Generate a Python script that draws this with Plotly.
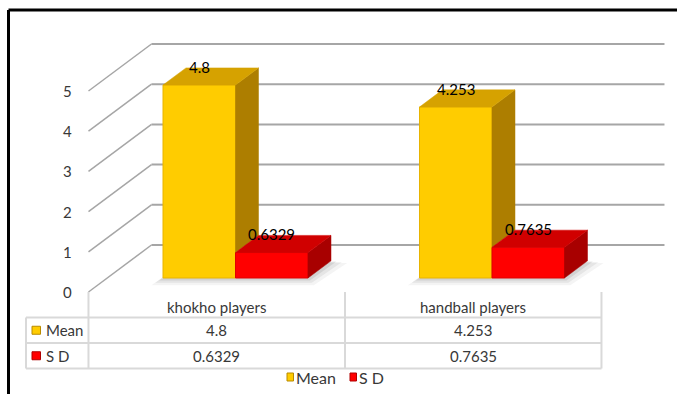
import plotly.graph_objects as go

# ---- data ----
categories = ["khokho players", "handball players"]
series_names = ["Mean", "S D"]
mean_values = [4.8, 4.253]
sd_values = [0.6329, 0.7635]
y_ticks = [0, 1, 2, 3, 4, 5]

# ---- styling ----
FRONT = {"Mean": "#FFCC00", "S D": "#FF0000"}
TOP = {"Mean": "#D6A200", "S D": "#D00000"}
SIDE = {"Mean": "#AD7E00", "S D": "#A80000"}
EDGE = {"Mean": "#E8B400", "S D": "#E00000"}
KEY_EDGE = {"Mean": "#B88A00", "S D": "#B00000"}
GRID = "#A6A6A6"
TABLE_LINE = "#D9D9D9"
TEXT = "#383838"
FONT = "Lato"

W, H = 677, 394
# pixel mapping of the data axes (bar front plane)
X0_PX, X_UNIT = 235.5, 256.5      # x=0 position / px per category
Y0_PX, Y_UNIT = 278.0, 40.2       # y=0 position / px per unit

# oblique projection for the 3-D look
DX = 63 / X_UNIT      # x shift from front wall to back wall
DV = 47 / Y_UNIT      # y shift from front wall to back wall
DB = 0.298            # depth of the bar front faces
BD = 0.365            # depth of the bars
HW = 72.5 / 2 / X_UNIT  # half bar width


def proj(x, v, d):
    return x + (d - DB) * DX, v + (d - DB) * DV


def px_to_x(px):
    return (px - X0_PX) / X_UNIT


def py_to_v(py):
    return (Y0_PX - py) / Y_UNIT


x_range = [px_to_x(0), px_to_x(W)]
y_range = [py_to_v(H), py_to_v(0)]

fig = go.Figure()
shapes = []
annotations = []

# ---- walls: back gridlines and left wall diagonals ----
for k in y_ticks:
    x1, y1 = proj(-0.5, k, 1)
    x2, y2 = proj(1.5, k, 1)
    shapes.append(dict(type="line", xref="x", yref="y", x0=x1, y0=y1, x1=x2, y1=y2,
                       line=dict(color=GRID, width=2), layer="below"))
    xf, yf = proj(-0.5, k, 0)
    shapes.append(dict(type="line", xref="x", yref="y", x0=xf, y0=yf, x1=x1, y1=y1,
                       line=dict(color=GRID, width=1.5), layer="below"))
    annotations.append(dict(x=xf, y=yf, xref="x", yref="y", text=str(k), showarrow=False,
                            xanchor="right", yanchor="middle", xshift=-14,
                            font=dict(family=FONT, size=15, color=TEXT)))

# ---- soft shadows under each bar group ----
bdx, bdv = BD * DX, BD * DV
for i, _ in enumerate(categories):
    gl, gr = i - 2 * HW, i + 2 * HW
    for grow, op in [(0.045, 0.06), (0.03, 0.08), (0.015, 0.11)]:
        gx = grow
        gv = grow * 4.0
        pts = [(gl - gx, -gv), (gr + gx * 0.5, -gv),
               (gr + bdx + gx * 1.4, bdv - gv * 0.3), (gl + bdx, bdv)]
        path = "M " + " L ".join(f"{px:.5f},{pv:.5f}" for px, pv in pts) + " Z"
        shapes.append(dict(type="path", xref="x", yref="y", path=path,
                           fillcolor=f"rgba(60,60,60,{op})", line=dict(width=0), layer="below"))

# ---- bar front faces ----
series = {"Mean": mean_values, "S D": sd_values}
offsets = {"Mean": -HW, "S D": HW}
for name in series_names:
    fig.add_trace(go.Bar(
        x=[i + offsets[name] for i in range(len(categories))],
        y=series[name], width=2 * HW, name=name,
        marker=dict(color=FRONT[name], line=dict(color=EDGE[name], width=1)),
        showlegend=False, hoverinfo="skip"))

# ---- top and side faces, drawn left to right ----
for i, _ in enumerate(categories):
    for j, name in enumerate(series_names):
        v = series[name][i]
        c = i + offsets[name]
        l, r = c - HW, c + HW
        top = [(l, v), (r, v), (r + bdx, v + bdv), (l + bdx, v + bdv), (l, v)]
        # the side face is hidden below the neighbouring bar on the right
        low = 0.0
        if j + 1 < len(series_names):
            low = min(series[series_names[j + 1]][i], v)
        side = [(r, low), (r, v), (r + bdx, v + bdv), (r + bdx, low + bdv), (r, low)]
        for pts, col in [(side, SIDE[name]), (top, TOP[name])]:
            fig.add_trace(go.Scatter(
                x=[p[0] for p in pts], y=[p[1] for p in pts], mode="lines",
                fill="toself", fillcolor=col, line=dict(color=col, width=0.5),
                showlegend=False, hoverinfo="skip"))
        annotations.append(dict(x=c, y=v + bdv, xref="x", yref="y", text=str(v),
                                showarrow=False, xanchor="center", yanchor="middle",
                                yshift=1, font=dict(family=FONT, size=15, color="#000000")))

# ---- data table ----
col_x = [proj(-0.5 + k, 0, 0)[0] for k in range(len(categories) + 1)]
table_left = px_to_x(26)
top_v = proj(0, 0, 0)[1]
row_h = 25.5 / Y_UNIT
rows_v = [top_v - row_h * k for k in range(len(series_names) + 2)]

def tline(x0, y0, x1, y1):
    shapes.append(dict(type="line", xref="x", yref="y", x0=x0, y0=y0, x1=x1, y1=y1,
                       line=dict(color=TABLE_LINE, width=2)))

for cx in col_x:
    tline(cx, rows_v[0], cx, rows_v[-1])
tline(table_left, rows_v[1], table_left, rows_v[-1])
for rv in rows_v[1:]:
    tline(table_left, rv, col_x[-1], rv)

for k, cat in enumerate(categories):
    cx = (col_x[k] + col_x[k + 1]) / 2
    annotations.append(dict(x=cx, y=(rows_v[0] + rows_v[1]) / 2, xref="x", yref="y",
                            text=cat, showarrow=False, yshift=-2,
                            font=dict(family=FONT, size=15, color=TEXT)))
    for r, name in enumerate(series_names):
        annotations.append(dict(x=cx, y=(rows_v[r + 1] + rows_v[r + 2]) / 2,
                                xref="x", yref="y", text=str(series[name][k]),
                                showarrow=False,
                                font=dict(family=FONT, size=15, color=TEXT)))

key_w = 8.5 / X_UNIT
key_h = 8 / Y_UNIT
for r, name in enumerate(series_names):
    rv = (rows_v[r + 1] + rows_v[r + 2]) / 2
    kx = px_to_x(32)
    shapes.append(dict(type="rect", xref="x", yref="y", x0=kx, x1=kx + key_w,
                       y0=rv - key_h / 2, y1=rv + key_h / 2,
                       fillcolor=FRONT[name], line=dict(color=KEY_EDGE[name], width=1)))
    annotations.append(dict(x=px_to_x(44), y=rv, xref="x", yref="y", text=name,
                            showarrow=False, xanchor="left",
                            font=dict(family=FONT, size=15, color=TEXT)))

# ---- legend ----
leg_v = py_to_v(377)
leg_key_px = [287, 350]
for name, kpx in zip(series_names, leg_key_px):
    kx = px_to_x(kpx)
    shapes.append(dict(type="rect", xref="x", yref="y", x0=kx, x1=kx + 6.5 / X_UNIT,
                       y0=leg_v - 4 / Y_UNIT, y1=leg_v + 4 / Y_UNIT,
                       fillcolor=FRONT[name], line=dict(color=KEY_EDGE[name], width=1)))
    annotations.append(dict(x=px_to_x(kpx + 7), y=leg_v, xref="x", yref="y", text=name,
                            showarrow=False, xanchor="left",
                            font=dict(family=FONT, size=16, color=TEXT)))

# ---- outer frame (top and left edges) ----
shapes.append(dict(type="line", xref="paper", yref="paper", x0=8.5 / W, x1=1,
                   y0=1 - 10 / H, y1=1 - 10 / H, line=dict(color="#000000", width=3)))
shapes.append(dict(type="line", xref="paper", yref="paper", x0=8.5 / W, x1=8.5 / W,
                   y0=0, y1=1 - 10 / H, line=dict(color="#000000", width=3)))

fig.update_layout(
    width=W, height=H, autosize=False,
    margin=dict(l=0, r=0, t=0, b=0, pad=0),
    paper_bgcolor="white", plot_bgcolor="white",
    barmode="overlay",
    xaxis=dict(range=x_range, visible=False, fixedrange=True),
    yaxis=dict(range=y_range, visible=False, fixedrange=True),
    shapes=shapes, annotations=annotations,
    showlegend=False,
)

fig.write_html("out.html")
